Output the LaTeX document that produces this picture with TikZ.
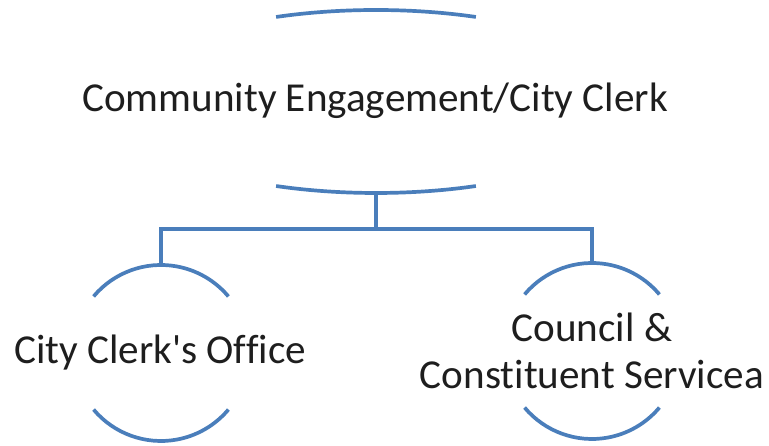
\documentclass[tikz,border=0pt]{standalone}
\usepackage{fontspec}
\setmainfont{Carlito}[Ligatures=NoCommon]
\usetikzlibrary{calc}
\definecolor{linkblue}{RGB}{74,126,187}
\definecolor{inktext}{RGB}{30,30,30}
\tikzset{
  arcline/.style={draw=linkblue, line width=3.7bp},
  linkline/.style={draw=linkblue, line width=3.7bp},
  unitlabel/.style={font=\fontsize{41.3}{47}\selectfont, text=inktext, align=center, inner sep=0pt},
}
\begin{document}
\begin{tikzpicture}[x=1bp,y=1bp]
  \useasboundingbox (0,0) rectangle (769,446);

  % head unit: text between two flat elliptical arcs
  \coordinate (head) at (376,344.5);
  \node[unitlabel] (headtext) at (375,345) {Community Engagement/City Clerk};
  \draw[arcline] ($(head)+(67.5:261 and 91.5)$) arc[start angle=67.5, end angle=112.5, x radius=261, y radius=91.5];
  \draw[arcline] ($(head)+(247.5:261 and 91.5)$) arc[start angle=247.5, end angle=292.5, x radius=261, y radius=91.5];
  \coordinate (headbottom) at ($(head)+(0,-91.5)$);

  % sub units: text inside a pair of circular arcs
  \coordinate (left) at (161,93);
  \coordinate (right) at (592,95);
  \node[unitlabel] (lefttext) at (160,93) {City Clerk\textquotesingle s Office};
  \node[unitlabel] (righttext) at (592,95) {Council \&\\Constituent Servicea};
  \foreach \c in {left,right}{
    \draw[arcline] ($(\c)+(140:88)$) arc[start angle=140, end angle=40, radius=88];
    \draw[arcline] ($(\c)+(220:88)$) arc[start angle=220, end angle=320, radius=88];
  }
  \coordinate (lefttop) at ($(left)+(0,88)$);
  \coordinate (righttop) at ($(right)+(0,88)$);

  % connectors
  \coordinate (bus) at (376,217);
  \draw[linkline] (headbottom) -- (bus);
  \draw[linkline] (bus) -| (lefttop);
  \draw[linkline] (bus) -| (righttop);
\end{tikzpicture}
\end{document}
